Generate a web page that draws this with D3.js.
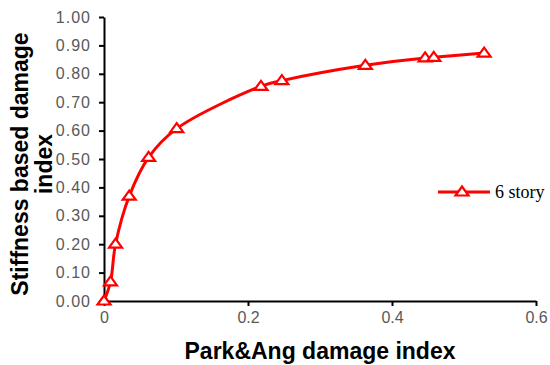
<!DOCTYPE html>
<html>
<head>
<meta charset="utf-8">
<script src="https://cdn.jsdelivr.net/npm/d3@7"></script>
<style>
  body { margin: 0; background: #fff; }
</style>
</head>
<body>
<div id="chart"></div>
<script>
// Park&Ang damage index vs stiffness based damage index, 6 story frame
var parkAng = [0, 0.009, 0.016, 0.035, 0.062, 0.101, 0.218, 0.247, 0.363, 0.446, 0.458, 0.528]
var stiffness = [0, 0.067, 0.2, 0.369, 0.506, 0.607, 0.756, 0.776, 0.83, 0.856, 0.858, 0.873]
var xTicks = [0, 0.2, 0.4, 0.6]
var yTicks = [0, 0.1, 0.2, 0.3, 0.4, 0.5, 0.6, 0.7, 0.8, 0.9, 1.0]
var seriesName = "6 story"

var width = 550
var height = 365
var padLeft = 104, padTop = 17, plotW = 432, plotH = 284

var svg = d3.select("#chart").append("svg")
  .attr("width", width)
  .attr("height", height)
  .style("font-family", "Arial, 'Liberation Sans', sans-serif")

var x = d3.scaleLinear().domain([0, 0.6]).range([padLeft, padLeft + plotW])
var y = d3.scaleLinear().domain([0, 1]).range([padTop + plotH, padTop])

// y axis
var yAxis = svg.append("g")
  .attr("transform", "translate(" + padLeft + ",0)")
  .call(d3.axisLeft(y).tickValues(yTicks).tickFormat(d3.format(".2f")).tickSize(5).tickSizeOuter(0))
yAxis.select(".domain").attr("stroke", "#000").attr("stroke-width", 2)
yAxis.selectAll(".tick line").attr("stroke", "#000").attr("stroke-width", 2)
yAxis.selectAll("text")
  .attr("x", -13)
  .attr("fill", "#595959")
  .style("font-size", "16px")
  .style("letter-spacing", "1px")

// x axis
var xAxis = svg.append("g")
  .attr("transform", "translate(0," + (padTop + plotH) + ")")
  .call(d3.axisBottom(x).tickValues(xTicks).tickFormat(function(d) { return d === 0 ? "0" : d3.format(".1f")(d) }).tickSize(5).tickSizeOuter(0))
xAxis.select(".domain").attr("stroke", "#000").attr("stroke-width", 2)
xAxis.selectAll(".tick line").attr("stroke", "#000").attr("stroke-width", 2)
xAxis.selectAll("text")
  .attr("y", 11)
  .attr("fill", "#595959")
  .style("font-size", "16px")

// titles
svg.append("text")
  .attr("x", 320)
  .attr("y", 359)
  .attr("text-anchor", "middle")
  .style("font-size", "23px")
  .style("font-weight", "bold")
  .text("Park&Ang damage index")

var yTitle = svg.append("text")
  .attr("transform", "translate(28,164) rotate(-90)")
  .attr("text-anchor", "middle")
  .style("font-size", "23px")
  .style("font-weight", "bold")
yTitle.append("tspan").attr("x", 0).attr("y", 0).text("Stiffness based damage")
yTitle.append("tspan").attr("x", 0).attr("y", 24).text("index")

// series
var pts = parkAng.map(function(d, i) { return [d, stiffness[i]] })
var line = d3.line()
  .x(function(d) { return x(d[0]) })
  .y(function(d) { return y(d[1]) })
  .curve(d3.curveCatmullRom.alpha(0.5))

svg.append("path")
  .datum(pts)
  .attr("d", line)
  .attr("fill", "none")
  .attr("stroke", "#ff0000")
  .attr("stroke-width", 3)

// Excel-like wide triangle marker
var wideTriangle = {
  draw: function(context, size) {
    context.moveTo(0, -5.5)
    context.lineTo(6.5, 3.5)
    context.lineTo(-6.5, 3.5)
    context.closePath()
  }
}
var tri = d3.symbol().type(wideTriangle)
svg.selectAll(".marker")
  .data(pts)
  .enter()
  .append("path")
    .attr("class", "marker")
    .attr("d", tri)
    .attr("transform", function(d) { return "translate(" + x(d[0]) + "," + y(d[1]) + ")" })
    .attr("fill", "#fff")
    .attr("stroke", "#ff0000")
    .attr("stroke-width", 2.2)

// legend
var lg = svg.append("g").attr("transform", "translate(438,192)")
lg.append("line").attr("x1", 0).attr("x2", 52).attr("y1", 0).attr("y2", 0)
  .attr("stroke", "#ff0000").attr("stroke-width", 3)
lg.append("path").attr("d", tri).attr("transform", "translate(24,0)")
  .attr("fill", "#fff").attr("stroke", "#ff0000").attr("stroke-width", 2.2)
lg.append("text")
  .attr("x", 57)
  .attr("y", 6)
  .style("font-family", "'Liberation Serif', 'Times New Roman', serif")
  .style("font-size", "18px")
  .attr("fill", "#000")
  .text(seriesName)
</script>
</body>
</html>
